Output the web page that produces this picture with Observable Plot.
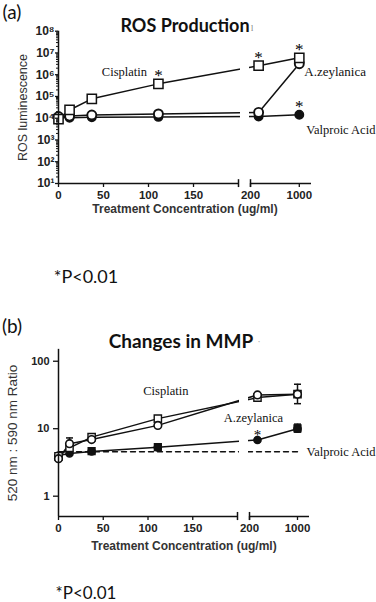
<!DOCTYPE html>
<html><head><meta charset="utf-8">
<script src="https://cdn.jsdelivr.net/npm/d3@7"></script>
<script src="https://cdn.jsdelivr.net/npm/@observablehq/plot@0.6"></script>
<style>
body{margin:0;background:#fff}
#page{position:relative;width:376px;height:602px;overflow:hidden;background:#fff}
.t{position:absolute;white-space:nowrap;line-height:1;transform:translate(-50%,-50%)}
.p{position:absolute}
</style></head><body><div id="page"></div>
<script>
// ---------- data ----------
const conc = [0, 12.3, 37, 111, 333, 1000];
// Panel (a) ROS luminescence
const rosCisplatin  = [9.0e3, 2.4e4, 7.8e4, 3.8e5, 2.6e6, 6.0e6];
const rosZeylanica  = [1.2e4, 1.25e4, 1.4e4, 1.57e4, 1.85e4, 3.2e6];
const rosValproic   = [1.1e4, 1.05e4, 1.1e4, 1.15e4, 1.2e4, 1.45e4];
const rosStars = [["cis", 3], ["cis", 4], ["cis", 5], ["val", 5]];
// Panel (b) 520/590 ratio
const mmpOpenSquare   = [3.9, 5.2, 7.5, 14.1, 28.9, 32.5];
const mmpOpenCircle   = [3.6, 6.0, 6.9, 11.2, 31.7, 32.5];
const mmpFilledCircle = [4.0, 4.3, 4.6, 5.3, 6.8, 10.0];
const mmpFilledSqConc = [37, 111, 1000];
const mmpFilledSquare = [4.65, 5.35, 10.1];
const mmpValproicRef  = [4.55, 4.55, 4.55, 4.55, 4.55, 4.55];
const mmpErrConc = [12.3, 1000, 1000];
const mmpErrLow  = [6.0, 23.5, 8.9];
const mmpErrHigh = [7.3, 45.6, 11.7];
const mmpStars = [["fc", 4]];
// ticks
const xTicksLeft = [0, 50, 100, 150];
const xTicksRight = [200, 1000];
const yTicksA = [10, 100, 1e3, 1e4, 1e5, 1e6, 1e7, 1e8];
const yLabelsA = ["10\u00B9", "10\u00B2", "10\u00B3", "10\u2074", "10\u2075", "10\u2076", "10\u2077", "10\u2078"];
const yTicksB = [1, 10, 100];
const yLabelsB = ["1", "10", "100"];

// ---------- helpers ----------
const rows = (xs, vs) => xs.map((c, i) => ({conc: c, value: vs[i]}));
const page = document.getElementById("page");
function addText(txt, x, y, css) {
  const d = document.createElement("div");
  d.className = "t"; d.textContent = txt;
  d.style.left = x + "px"; d.style.top = y + "px";
  d.style.cssText += css;
  page.appendChild(d);
}
const SANS = "'Liberation Sans', Arial, sans-serif";
const SERIF = "'Liberation Serif', 'Times New Roman', serif";
const capSymbol = {draw(ctx, size) { const r = Math.sqrt(size / Math.PI); ctx.moveTo(-r, 0); ctx.lineTo(r, 0); }};
const xDomain = [0, 199.99, 200, 1200];

function axesMarks(yMin, yMax, brkLo, brkHi, yTicks, yLabels, ySize, yPad, yFont, minor) {
  const m = [
    Plot.ruleX([0], {y1: yMin, y2: yMax, stroke: "#111", strokeWidth: 1.5}),
    Plot.ruleY([yMin], {x1: 0, x2: 199.99, stroke: "#111", strokeWidth: 1.5}),
    Plot.ruleY([yMin], {x1: 200, x2: 1200, stroke: "#111", strokeWidth: 1.5}),
    Plot.ruleX([199.99, 200], {y1: brkLo, y2: brkHi, stroke: "#111", strokeWidth: 1.5}),
    Plot.axisX({ticks: xTicksLeft, tickSize: 4, tickPadding: 3, tickFormat: d3.format("d"), label: null,
      fontSize: 11.5, fontWeight: "bold", fontFamily: SANS, fill: "#222", strokeWidth: 1.3}),
    Plot.axisX({ticks: xTicksRight, tickSize: 4, tickPadding: 3, tickFormat: d3.format("d"), label: null,
      fontSize: 11.5, fontWeight: "bold", fontFamily: SANS, fill: "#222", strokeWidth: 1.3}),
    Plot.axisY({ticks: yTicks, tickSize: ySize, tickPadding: yPad, tickFormat: d => yLabels[yTicks.indexOf(d)], label: null,
      fontSize: yFont, fontWeight: "bold", fontFamily: SANS, fill: "#222", strokeWidth: 1.3})
  ];
  if (minor) m.push(Plot.axisY({ticks: minor, tickSize: 2, tickFormat: () => "", label: null, strokeWidth: 1}));
  return m;
}

// ---------- panel (a) ----------
const aCis = rows(conc, rosCisplatin), aZey = rows(conc, rosZeylanica), aVal = rows(conc, rosValproic);
const aSeries = {cis: aCis, zey: aZey, val: aVal};
const aStars = rosStars.map(([s, i]) => aSeries[s][i]);
const minorA = [];
for (let e = 1; e < 8; e++) for (let k = 2; k <= 9; k++) minorA.push(k * 10 ** e);

const plotA = Plot.plot({
  width: 376, height: 220,
  marginLeft: 58, marginRight: 65, marginTop: 31, marginBottom: 37,
  style: {background: "transparent", color: "#111", overflow: "visible"},
  x: {type: "linear", domain: xDomain, range: [58, 238, 250, 311], axis: null},
  y: {type: "log", domain: [10, 1e8], range: [183, 30.7], axis: null},
  marks: [
    Plot.line(aVal, {x: "conc", y: "value", stroke: "#111", strokeWidth: 1.5}),
    Plot.line(aZey, {x: "conc", y: "value", stroke: "#111", strokeWidth: 1.5}),
    Plot.line(aCis, {x: "conc", y: "value", stroke: "#111", strokeWidth: 1.5}),
    Plot.rect([0], {x1: 199.99, x2: 200, y1: 10, y2: 1e8, fill: "white", insetLeft: 2, insetRight: 1}),
    Plot.dot(aVal, {x: "conc", y: "value", r: 4.2, fill: "#111", stroke: "#111"}),
    Plot.dot(aZey, {x: "conc", y: "value", r: 4.5, fill: "white", stroke: "#111", strokeWidth: 1.9}),
    Plot.dot(aCis, {x: "conc", y: "value", symbol: "square", r: 5.2, fill: "white", stroke: "#111", strokeWidth: 1.5}),
    Plot.text(aStars, {x: "conc", y: "value", text: () => "*", dy: -8, fontSize: 17, fontFamily: SERIF, fill: "#000"}),
    Plot.text([aCis[3]], {x: "conc", y: "value", text: () => "Cisplatin", dx: -34, dy: -12, fontSize: 12.5, fontFamily: SERIF, fill: "#111"}),
    Plot.text([aZey[5]], {x: "conc", y: "value", text: () => "A.zeylanica", textAnchor: "start", dx: 5, dy: 8, fontSize: 13, fontFamily: SERIF, fill: "#111"}),
    Plot.text([aVal[5]], {x: "conc", y: "value", text: () => "Valproic Acid", textAnchor: "start", dx: 7, dy: 15, fontSize: 12.5, fontFamily: SERIF, fill: "#111"}),
    ...axesMarks(10, 1e8, 6.5, 15, yTicksA, yLabelsA, 3, 1, 12, minorA),
    Plot.text(["ROS luminescence"], {frameAnchor: "left", textAnchor: "middle", rotate: -90, dx: -36, fontSize: 12.5, fontFamily: SANS, fill: "#333"}),
    Plot.text(["Treatment Concentration (ug/ml)"], {frameAnchor: "bottom", dy: 29, fontSize: 12, fontWeight: "bold", fontFamily: SANS, fill: "#333"})
  ]
});
plotA.classList.add("p"); plotA.style.left = "0px"; plotA.style.top = "0px";
page.appendChild(plotA);

// ---------- panel (b) ----------
const bOS = rows(conc, mmpOpenSquare), bOC = rows(conc, mmpOpenCircle), bFC = rows(conc, mmpFilledCircle);
const bFS = rows(mmpFilledSqConc, mmpFilledSquare), bRef = rows(conc, mmpValproicRef);
const bErr = mmpErrConc.map((c, i) => ({conc: c, lo: mmpErrLow[i], hi: mmpErrHigh[i]}));
const bSeries = {fc: bFC};
const bStars = mmpStars.map(([s, i]) => bSeries[s][i]);
const TOPB = 330;

const plotB = Plot.plot({
  width: 376, height: 230,
  marginLeft: 58, marginRight: 67, marginTop: 19, marginBottom: 44,
  style: {background: "transparent", color: "#111", overflow: "visible"},
  x: {type: "linear", domain: xDomain, range: [58, 237, 249, 309], axis: null},
  y: {type: "log", domain: [0.5, 150], range: [516 - TOPB, 348.85 - TOPB], axis: null},
  marks: [
    Plot.line(bRef, {x: "conc", y: "value", stroke: "#111", strokeWidth: 1.4, strokeDasharray: "5,4"}),
    Plot.line(bFC, {x: "conc", y: "value", stroke: "#111", strokeWidth: 1.5}),
    Plot.line(bOC, {x: "conc", y: "value", stroke: "#111", strokeWidth: 1.5}),
    Plot.line(bOS, {x: "conc", y: "value", stroke: "#111", strokeWidth: 1.5}),
    Plot.rect([0], {x1: 199.99, x2: 200, y1: 0.5, y2: 150, fill: "white", insetLeft: 2, insetRight: 1}),
    Plot.ruleX(bErr, {x: "conc", y1: "lo", y2: "hi", stroke: "#111", strokeWidth: 1.5}),
    Plot.dot(bErr, {x: "conc", y: "hi", symbol: capSymbol, r: 3.5, stroke: "#111", strokeWidth: 1.5}),
    Plot.dot(bErr.slice(1), {x: "conc", y: "lo", symbol: capSymbol, r: 3.5, stroke: "#111", strokeWidth: 1.5}),
    Plot.dot(bFC, {x: "conc", y: "value", r: 3.6, fill: "#111", stroke: "#111"}),
    Plot.dot(bFS, {x: "conc", y: "value", symbol: "square", r: 3.8, fill: "#111", stroke: "#111"}),
    Plot.dot(bOS, {x: "conc", y: "value", symbol: "square", r: 4.1, fill: "white", stroke: "#111", strokeWidth: 1.4}),
    Plot.dot(bOC, {x: "conc", y: "value", r: 3.8, fill: "white", stroke: "#111", strokeWidth: 1.6}),
    Plot.text(bStars, {x: "conc", y: "value", text: () => "*", dy: -5, fontSize: 15, fontFamily: SERIF, fill: "#000"}),
    Plot.text([bOS[3]], {x: "conc", y: "value", text: () => "Cisplatin", dx: 8, dy: -28, fontSize: 12.5, fontFamily: SERIF, fill: "#111"}),
    Plot.text([bFC[4]], {x: "conc", y: "value", text: () => "A.zeylanica", dx: -4, dy: -22, fontSize: 12.5, fontFamily: SERIF, fill: "#111"}),
    Plot.text([bRef[5]], {x: "conc", y: "value", text: () => "Valproic Acid", textAnchor: "start", dx: 9, fontSize: 12.5, fontFamily: SERIF, fill: "#111"}),
    ...axesMarks(0.5, 150, 0.435, 0.574, yTicksB, yLabelsB, 5, 4, 11, null),
    Plot.text(["520 nm : 590 nm Ratio"], {frameAnchor: "left", textAnchor: "middle", rotate: -90, dx: -46, fontSize: 13.5, fontFamily: SANS, fill: "#333"}),
    Plot.text(["Treatment Concentration (ug/ml)"], {frameAnchor: "bottom", dy: 33, fontSize: 12, fontWeight: "bold", fontFamily: SANS, fill: "#333"})
  ]
});
plotB.classList.add("p"); plotB.style.left = "0px"; plotB.style.top = TOPB + "px";
page.appendChild(plotB);

// ---------- titles & notes ----------
addText("(a)", 12, 11, "font-family:Lato,sans-serif;font-size:19px;color:#111;");
addText("ROS Production", 185, 25, "font-family:Lato,sans-serif;font-weight:bold;font-size:18px;color:#111;");
addText("l", 252, 29, "font-family:" + SERIF + ";font-size:8px;color:#777;");
addText("*P<0.01", 86, 276, "font-family:Lato,sans-serif;font-size:18px;color:#111;");
addText("(b)", 12, 325, "font-family:Lato,sans-serif;font-size:19px;color:#111;");
addText("Changes in MMP", 181, 340, "font-family:Lato,sans-serif;font-weight:bold;font-size:19px;color:#111;");
addText("\u00B7", 259, 341, "font-family:Lato,sans-serif;font-size:8px;color:#aaa;");
addText("*P<0.01", 86, 592, "font-family:Lato,sans-serif;font-size:17px;color:#111;");
</script></body></html>
